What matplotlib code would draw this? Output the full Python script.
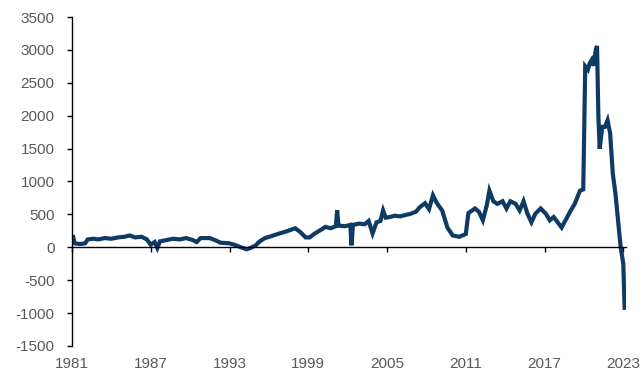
import matplotlib
matplotlib.use("Agg")
import matplotlib.pyplot as plt

# decimal year / value pairs
years = [
    1981.0, 1981.1, 1981.2, 1981.6, 1982.0, 1982.2, 1982.6, 1983.0, 1983.5, 1984.0,
    1984.5, 1985.0, 1985.4, 1985.8, 1986.3, 1986.7, 1987.0, 1987.3, 1987.5, 1987.7,
    1988.2, 1988.7, 1989.2, 1989.7, 1990.2, 1990.5, 1990.8, 1991.5, 1992.0, 1992.3,
    1993.0, 1993.5, 1993.8, 1994.3, 1994.6, 1995.0, 1995.3, 1995.7, 1996.2, 1996.8,
    1997.3, 1997.6, 1998.0, 1998.4, 1998.8, 1999.1, 1999.5, 2000.0, 2000.3, 2000.7,
    2001.1, 2001.2, 2001.3, 2001.8, 2002.2, 2002.3, 2002.4, 2002.9, 2003.3, 2003.6,
    2003.9, 2004.2, 2004.5, 2004.7, 2004.9, 2005.2, 2005.6, 2006.0, 2006.4, 2006.8,
    2007.2, 2007.5, 2007.9, 2008.2, 2008.5, 2008.8, 2009.2, 2009.6, 2010.0, 2010.5,
    2011.0, 2011.2, 2011.7, 2012.0, 2012.3, 2012.6, 2012.8, 2013.1, 2013.4, 2013.8,
    2014.1, 2014.4, 2014.8, 2015.1, 2015.4, 2015.7, 2016.0, 2016.3, 2016.7, 2017.1,
    2017.4, 2017.7, 2018.0, 2018.3, 2018.6, 2019.0, 2019.3, 2019.7, 2019.95, 2020.1,
    2020.3, 2020.45, 2020.6, 2020.75, 2020.9, 2021.0, 2021.1, 2021.2, 2021.4, 2021.6,
    2021.8, 2022.0, 2022.2, 2022.4, 2022.65, 2022.8, 2023.0, 2023.1,
]
values = [
    140, 150, 60, 50, 60, 120, 130, 120, 140, 130,
    150, 160, 180, 150, 160, 120, 40, 80, -10, 90,
    110, 130, 120, 140, 110, 80, 140, 140, 100, 70,
    60, 30, 5, -30, -10, 30, 90, 140, 170, 210,
    240, 260, 290, 230, 150, 150, 210, 270, 310, 290,
    320, 560, 330, 320, 340, 30, 340, 360, 350, 400,
    210, 380, 400, 560, 450, 460, 480, 470, 490, 510,
    540, 610, 670, 580, 790, 670, 560, 300, 180, 160,
    200, 520, 590, 540, 410, 640, 860, 700, 660, 700,
    590, 700, 660, 560, 700, 510, 380, 510, 590, 510,
    410, 460, 380, 300, 410, 560, 660, 860, 880, 2750,
    2700, 2800, 2850, 2760, 3000, 3060, 2000, 1500, 1830, 1830,
    1930, 1730, 1120, 820, 300, 0, -250, -920,
]

tick_years = [1981, 1987, 1993, 1999, 2005, 2011, 2017, 2023]
y_ticks = list(range(-1500, 3501, 500))

plt.rcParams["font.family"] = ["Liberation Sans", "DejaVu Sans"]
label_color = "#595959"

fig = plt.figure(figsize=(6.4, 3.84), dpi=100)
ax = fig.add_axes([0.1125, 0.099, 0.8655, 0.8567])

ax.plot(years, values, color="#0f3a64", lw=3.0, solid_joinstyle="miter")

ax.set_xlim(1981, 2023.2)
ax.set_ylim(-1500, 3500)
ax.set_yticks(y_ticks)
ax.set_yticklabels([str(v) for v in y_ticks])

for side in ("top", "right"):
    ax.spines[side].set_visible(False)
ax.spines["bottom"].set_position(("data", 0))
ax.spines["bottom"].set_linewidth(1.0)
ax.spines["left"].set_linewidth(1.0)

ax.set_xticks(tick_years)
ax.set_xticklabels([])
ax.tick_params(axis="x", direction="out", length=3.5, width=1.0)
ax.tick_params(axis="y", direction="out", length=3.5, width=1.0, pad=9,
               labelsize=11, labelcolor=label_color)

sec = ax.secondary_xaxis(0.0)
sec.set_xticks(tick_years)
sec.set_xticklabels([str(y) for y in tick_years])
sec.tick_params(length=0, pad=8, labelsize=11, labelcolor=label_color)
sec.spines["bottom"].set_visible(False)

fig.savefig("out.png", dpi=100)
